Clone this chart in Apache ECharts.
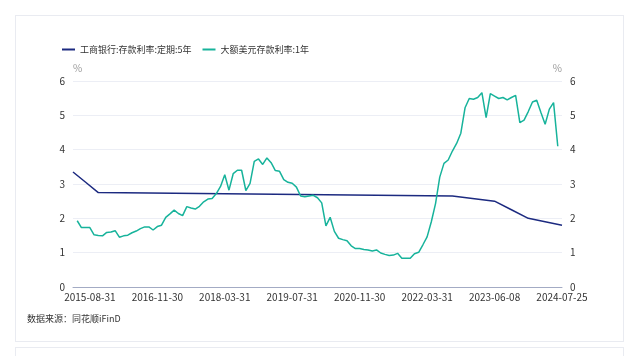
<!DOCTYPE html>
<html>
<head>
<meta charset="utf-8">
<script src="https://cdn.jsdelivr.net/npm/echarts@6/dist/echarts.min.js"></script>
<style>
html,body{margin:0;padding:0;background:#fff;width:640px;height:356px;overflow:hidden;}
.card{position:absolute;border:1px solid #e9ebf1;background:#fff;}
#chart{position:absolute;left:0;top:0;width:640px;height:356px;}
</style>
</head>
<body>
<div class="card" style="left:15px;top:15px;width:607px;height:325px;"></div>
<div class="card" style="left:15px;top:347px;width:607px;height:40px;"></div>
<div id="chart"></div>
<script>
const categories = [
"2015-06-28","2015-06-30","2015-07-31","2015-08-26","2015-08-31","2015-09-30","2015-10-24","2015-10-31","2015-11-30","2015-12-31",
"2016-01-31","2016-02-29","2016-03-31","2016-04-30","2016-05-31","2016-06-30","2016-07-31","2016-08-31","2016-09-30","2016-10-31",
"2016-11-30","2016-12-31","2017-01-31","2017-02-28","2017-03-31","2017-04-30","2017-05-31","2017-06-30","2017-07-31","2017-08-31",
"2017-09-30","2017-10-31","2017-11-30","2017-12-31","2018-01-31","2018-02-28","2018-03-31","2018-04-30","2018-05-31","2018-06-30",
"2018-07-31","2018-08-31","2018-09-30","2018-10-31","2018-11-30","2018-12-31","2019-01-31","2019-02-28","2019-03-31","2019-04-30",
"2019-05-31","2019-06-30","2019-07-31","2019-08-31","2019-09-30","2019-10-31","2019-11-30","2019-12-31","2020-01-31","2020-02-29",
"2020-03-31","2020-04-30","2020-05-31","2020-06-30","2020-07-31","2020-08-31","2020-09-30","2020-10-31","2020-11-30","2020-12-31",
"2021-01-31","2021-02-28","2021-03-31","2021-04-30","2021-05-31","2021-06-30","2021-07-31","2021-08-31","2021-09-30","2021-10-31",
"2021-11-30","2021-12-31","2022-01-31","2022-02-28","2022-03-31","2022-04-30","2022-05-31","2022-06-30","2022-07-31","2022-08-31",
"2022-09-15","2022-09-30","2022-10-31","2022-11-30","2022-12-31","2023-01-31","2023-02-28","2023-03-31","2023-04-30","2023-05-31",
"2023-06-08","2023-06-30","2023-07-31","2023-08-31","2023-09-01","2023-09-30","2023-10-31","2023-11-30","2023-12-22","2023-12-31",
"2024-01-31","2024-02-29","2024-03-31","2024-04-30","2024-05-31","2024-06-30","2024-07-25"
];
const tickLabels = ["2015-08-31","2016-11-30","2018-03-31","2019-07-31","2020-11-30","2022-03-31","2023-06-08","2024-07-25"];
const yTicks = [0,1,2,3,4,5,6];

const seriesNames = ["工商银行:存款利率:定期:5年","大额美元存款利率:1年"];

// ICBC 5-year fixed deposit rate, only on change dates (null elsewhere)
const icbc5y = [
3.35,null,null,3.05,null,null,2.75,null,null,null,
null,null,null,null,null,null,null,null,null,null,
null,null,null,null,null,null,null,null,null,null,
null,null,null,null,null,null,null,null,null,null,
null,null,null,null,null,null,null,null,null,null,
null,null,null,null,null,null,null,null,null,null,
null,null,null,null,null,null,null,null,null,null,
null,null,null,null,null,null,null,null,null,null,
null,null,null,null,null,null,null,null,null,null,
2.65,null,null,null,null,null,null,null,null,null,
2.50,null,null,null,2.25,null,null,null,2.00,null,
null,null,null,null,null,null,1.80
];

// USD large-denomination 1-year deposit rate
const usd1y = [
null,1.93,1.73,1.73,1.73,1.52,1.50,1.49,1.59,1.60,
1.64,1.45,1.49,1.51,1.58,1.63,1.70,1.75,1.75,1.66,
1.76,1.80,2.03,2.13,2.24,2.14,2.08,2.34,2.30,2.27,
2.35,2.48,2.56,2.58,2.72,2.93,3.27,2.82,3.30,3.40,
3.40,2.81,3.02,3.66,3.73,3.57,3.76,3.62,3.39,3.37,
3.13,3.05,3.02,2.91,2.65,2.63,2.65,2.67,2.60,2.45,
1.78,2.03,1.62,1.42,1.38,1.35,1.20,1.12,1.12,1.09,
1.08,1.05,1.08,0.99,0.95,0.92,0.93,0.98,0.84,0.84,
0.84,0.97,1.01,1.23,1.46,1.90,2.43,3.20,3.60,3.70,
3.96,4.18,4.48,5.22,5.49,5.47,5.52,5.66,4.93,5.63,
5.56,5.49,5.52,5.45,5.52,5.58,4.79,4.86,5.11,5.39,
5.44,5.08,4.74,5.18,5.37,4.10,null
];

const FONT = '"Noto Sans CJK SC", "Noto Sans", sans-serif';
const chart = echarts.init(document.getElementById('chart'), null, {renderer:'canvas'});
const yAxisCommon = {
  type:'value', min:0, max:6, interval:1,
  name:'%', nameGap:8,
  axisLine:{show:false}, axisTick:{show:false},
  axisLabel:{color:'#333', fontSize:10, fontFamily:FONT,
    formatter:function(v){return yTicks.indexOf(v)>=0 ? String(v) : '';}}
};
chart.setOption({
  animation:false,
  textStyle:{fontFamily:FONT},
  legend:{
    left:57, top:40, itemGap:11, itemWidth:13, itemHeight:2, icon:'rect',
    textStyle:{color:'#333', fontSize:9, fontFamily:FONT},
    data:seriesNames
  },
  grid:{left:73, right:78, top:81, bottom:69, containLabel:false},
  xAxis:{
    type:'category', data:categories, boundaryGap:false,
    axisLine:{lineStyle:{color:'#a3abc4', width:1}},
    axisTick:{show:false},
    axisLabel:{color:'#333', fontSize:10, fontFamily:FONT, margin:5,
      interval:function(i, v){return tickLabels.indexOf(v)>=0;},
      formatter:function(v){return v;}},
    splitLine:{show:false}
  },
  yAxis:[
    Object.assign({}, yAxisCommon, {position:'left',
      nameTextStyle:{color:'#999', fontSize:10, align:'left', padding:[0,0,0,0]},
      splitLine:{lineStyle:{color:'#eceef5'}}}),
    Object.assign({}, yAxisCommon, {position:'right',
      nameTextStyle:{color:'#999', fontSize:10, align:'right'},
      splitLine:{show:false}})
  ],
  series:[
    {name:seriesNames[0], type:'line', data:icbc5y, connectNulls:true, showSymbol:false, symbol:'none',
     yAxisIndex:0, lineStyle:{color:'#1c2a80', width:1.5}, itemStyle:{color:'#1c2a80'}},
    {name:seriesNames[1], type:'line', data:usd1y, connectNulls:true, showSymbol:false, symbol:'none',
     yAxisIndex:1, lineStyle:{color:'#17b39b', width:1.5}, itemStyle:{color:'#17b39b'}}
  ],
  graphic:[{type:'text', left:27, top:314, style:{text:'数据来源：同花顺iFinD', fill:'#333', fontSize:9, fontFamily:FONT}}]
});
</script>
</body>
</html>
